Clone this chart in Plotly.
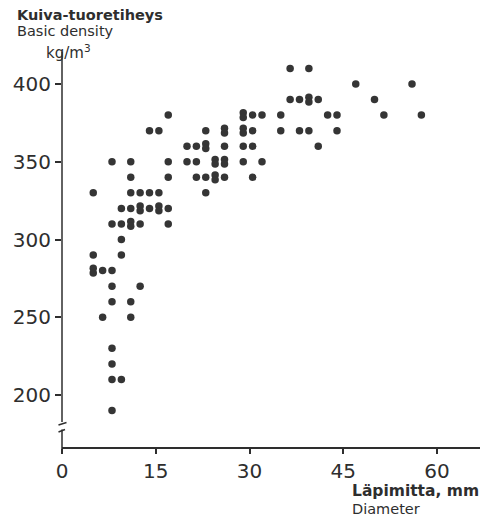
import plotly.graph_objects as go
from collections import Counter

# Data (diameter mm, basic density kg/m3)
diameter = [
    36.5, 39.5,
    47, 56,
    36.5, 38, 39.5, 39.5, 41, 50,
    17, 29, 29, 30.5, 32, 35, 42.5, 44, 51.5, 57.5,
    14, 15.5, 23, 26, 26, 29, 29, 30.5, 35, 38, 39.5, 44,
    20, 21.5, 23, 23, 26, 29, 30.5, 41,
    8, 11, 17, 20, 21.5, 24.5, 24.5, 26, 26, 29, 32,
    11, 17, 21.5, 23, 24.5, 24.5, 26, 30.5,
    5, 11, 12.5, 14, 15.5, 23,
    9.5, 11, 12.5, 12.5, 14, 15.5, 15.5, 17,
    8, 9.5, 11, 11, 12.5, 17,
    9.5,
    5, 9.5,
    5, 5, 6.5, 8,
    8, 12.5,
    8, 11,
    6.5, 11,
    8,
    8,
    8, 9.5,
    8,
]
density = (
    [410] * 2 + [400] * 2 + [390] * 6 + [380] * 10 + [370] * 12 + [360] * 8 +
    [350] * 11 + [340] * 8 + [330] * 6 + [320] * 8 + [310] * 6 + [300] * 1 +
    [290] * 2 + [280] * 4 + [270] * 2 + [260] * 2 + [250] * 2 + [230] * 1 +
    [220] * 1 + [210] * 2 + [190] * 1
)

y_ticks = [200, 250, 300, 350, 400]
x_ticks = [0, 15, 30, 45, 60]

# Duplicate observations are drawn as stacked dots (chart convention)
counts = Counter(zip(diameter, density))
seen = Counter()
plot_y = []
for xv, yv in zip(diameter, density):
    n = counts[(xv, yv)]
    k = seen[(xv, yv)]
    seen[(xv, yv)] += 1
    plot_y.append(yv - (k - (n - 1) / 2) * 3.0)

ink = "#2e2e2e"

fig = go.Figure()
fig.add_trace(go.Scatter(
    x=diameter, y=plot_y, mode="markers",
    marker=dict(size=7.5, color="#353535", line=dict(width=0)),
    hoverinfo="skip", showlegend=False,
))

# plot area: left 62, right 480, top 52, bottom 447 (px)
L, R, T, B = 62, 480, 52, 447
W, H = 488, 521
pw, ph = R - L, B - T

def px(xp):
    return (xp - L) / pw

def py(yp):
    return (B - yp) / ph

fig.update_layout(
    width=W, height=H,
    margin=dict(l=L, r=W - R, t=T, b=H - B, pad=0),
    paper_bgcolor="white", plot_bgcolor="white",
    font=dict(family="DejaVu Sans", color=ink),
    xaxis=dict(
        range=[0, pw / 6.25], tickvals=x_ticks, ticktext=[str(v) for v in x_ticks],
        showline=True, linecolor=ink, linewidth=1.5, ticks="outside", ticklen=5,
        tickwidth=1.5, tickcolor=ink, showgrid=False, zeroline=False,
        tickfont=dict(size=20, family="DejaVu Sans", color=ink),
    ),
    yaxis=dict(
        range=[300 - (B - 239.5) / 1.555, 300 + (239.5 - T) / 1.555],
        tickvals=y_ticks, ticktext=[str(v) for v in y_ticks],
        showline=False, ticks="outside", ticklen=6, tickwidth=1.5, tickcolor=ink,
        showgrid=False, zeroline=False,
        tickfont=dict(size=20, family="DejaVu Sans", color=ink),
    ),
)

line = dict(color=ink, width=1.5)
shapes = [
    dict(type="line", xref="paper", yref="paper", x0=0, x1=0, y0=1, y1=py(422), line=line),
    dict(type="line", xref="paper", yref="paper", x0=0, x1=0, y0=py(429.5), y1=py(450), line=line),
    dict(type="line", xref="paper", yref="paper", x0=px(58.5), x1=px(66.5), y0=py(425), y1=py(422.5), line=line),
    dict(type="line", xref="paper", yref="paper", x0=px(58.5), x1=px(65), y0=py(432), y1=py(429.5), line=line),
]
fig.update_layout(shapes=shapes)

def note(text, xp, yp, size, bold=False):
    fig.add_annotation(
        text=f"<b>{text}</b>" if bold else text,
        xref="paper", yref="paper", x=px(xp), y=py(yp),
        xanchor="left", yanchor="middle", showarrow=False,
        font=dict(size=size, family="DejaVu Sans", color=ink),
    )

note("Kuiva-tuoretiheys", 15, 15, 14.5, bold=True)
note("Basic density", 15, 31.5, 14.5)
note("kg/m<sup>3</sup>", 44, 51.5, 15)
note("Läpimitta, mm", 350, 491, 15.5, bold=True)
note("Diameter", 350, 508.5, 14.5)

fig.write_html("out.html")
